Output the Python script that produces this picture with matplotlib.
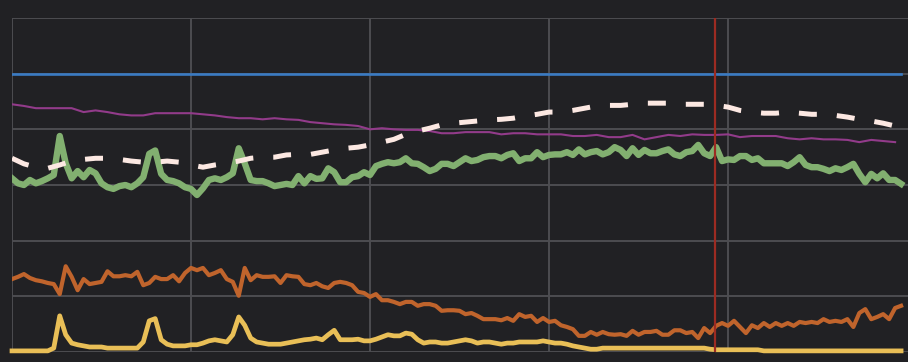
import numpy as np
import matplotlib
matplotlib.use("Agg")
import matplotlib.pyplot as plt

# ---------------- data ----------------
green_values = [
    31.2, 30.3, 30.0, 30.9, 30.3, 30.7, 31.2, 31.8, 38.8, 33.9,
    31.2, 32.5, 31.4, 32.7, 32.1, 30.3, 29.6, 29.3, 29.8, 30.0,
    29.6, 30.3, 31.4, 35.6, 36.2, 32.0, 30.9, 30.7, 30.3, 29.6,
    29.3, 28.2, 29.4, 30.9, 31.2, 30.9, 31.4, 32.1, 36.6, 33.9,
    30.9, 30.7, 30.7, 30.3, 29.8, 30.0, 30.2, 30.0, 31.6, 30.3,
    31.6, 31.1, 31.2, 33.0, 32.3, 30.5, 30.5, 31.4, 31.6, 32.3,
    31.8, 33.4, 33.8, 34.1, 33.9, 34.1, 34.8, 33.9, 33.8, 33.2,
    32.5, 32.9, 33.8, 33.8, 33.4, 34.1, 34.8, 34.3, 34.5, 35.0,
    35.2, 35.2, 34.8, 35.4, 35.7, 34.3, 34.8, 34.8, 35.9, 35.0,
    35.4, 35.5, 35.5, 35.9, 35.4, 36.4, 35.5, 35.9, 36.1, 35.5,
    35.9, 36.8, 36.3, 35.2, 36.6, 35.4, 36.3, 35.7, 35.7, 36.1,
    36.4, 35.5, 35.2, 35.9, 36.1, 37.2, 35.7, 35.2, 36.8, 34.3,
    34.6, 34.5, 35.2, 35.2, 34.5, 34.8, 33.9, 33.9, 33.9, 33.9,
    33.4, 34.1, 35.0, 33.6, 33.2, 33.2, 32.9, 32.5, 33.0, 32.7,
    33.2, 33.8, 32.0, 30.5, 32.0, 31.2, 32.1, 30.9, 30.9, 30.2,
]

orange_values = [
    13.1, 13.5, 14.0, 13.3, 12.9, 12.7, 12.4, 12.2, 10.4, 15.4,
    13.5, 11.1, 13.1, 12.2, 12.4, 12.6, 14.5, 13.6, 13.6, 13.8,
    13.6, 14.4, 12.0, 12.4, 13.5, 13.1, 13.1, 13.8, 12.7, 14.2,
    15.1, 14.7, 15.1, 13.8, 14.2, 14.7, 13.1, 12.6, 10.1, 15.1,
    12.9, 13.8, 13.5, 13.5, 13.6, 12.4, 13.8, 13.6, 13.5, 12.2,
    12.0, 12.4, 11.8, 11.5, 12.4, 12.6, 12.4, 12.0, 10.8, 10.6,
    9.9, 10.4, 9.3, 9.3, 9.0, 8.6, 9.0, 9.0, 8.3, 8.6,
    8.6, 8.3, 7.4, 7.5, 7.5, 7.4, 6.8, 7.0, 6.5, 5.9,
    5.9, 5.9, 5.7, 6.1, 5.6, 6.8, 6.3, 6.5, 5.4, 6.1,
    5.4, 5.6, 4.8, 4.5, 4.1, 2.9, 2.9, 3.6, 3.1, 3.6,
    3.2, 3.1, 3.2, 2.9, 3.8, 3.1, 3.6, 3.6, 3.8, 3.1,
    3.1, 3.9, 3.9, 3.4, 3.6, 2.5, 4.3, 3.4, 4.7, 5.2,
    4.7, 5.6, 4.5, 3.4, 4.8, 4.3, 5.2, 4.5, 5.2, 4.7,
    5.2, 4.7, 5.4, 5.2, 5.4, 5.2, 5.9, 5.4, 5.6, 5.4,
    5.9, 4.5, 7.0, 7.7, 5.9, 6.3, 6.8, 5.9, 7.9, 8.3,
]

yellow_values = [
    0.2, 0.2, 0.2, 0.2, 0.2, 0.2, 0.2, 0.7, 6.5, 3.1,
    1.6, 1.3, 1.1, 0.9, 0.9, 0.9, 0.7, 0.7, 0.7, 0.7,
    0.7, 0.7, 1.8, 5.6, 6.0, 2.2, 1.4, 1.1, 1.1, 1.1,
    1.3, 1.3, 1.6, 2.0, 2.2, 2.0, 1.8, 3.1, 6.3, 4.8,
    2.5, 1.8, 1.6, 1.4, 1.4, 1.4, 1.6, 1.8, 2.0, 2.2,
    2.3, 2.5, 2.2, 3.1, 3.9, 2.2, 2.2, 2.2, 2.3, 2.0,
    2.0, 2.3, 2.7, 3.1, 2.9, 2.9, 3.4, 3.2, 2.2, 1.6,
    1.8, 1.8, 1.6, 1.6, 1.8, 2.0, 2.2, 2.0, 1.6, 1.8,
    1.8, 1.6, 1.4, 1.6, 1.6, 1.8, 1.8, 1.8, 1.8, 2.0,
    1.8, 1.6, 1.6, 1.4, 1.1, 0.9, 0.7, 0.5, 0.5, 0.7,
    0.7, 0.7, 0.7, 0.7, 0.7, 0.7, 0.7, 0.7, 0.7, 0.7,
    0.7, 0.7, 0.7, 0.7, 0.7, 0.7, 0.7, 0.5, 0.4, 0.4,
    0.4, 0.4, 0.4, 0.4, 0.4, 0.4, 0.2, 0.2, 0.2, 0.2,
    0.2, 0.2, 0.2, 0.2, 0.2, 0.2, 0.2, 0.2, 0.2, 0.2,
    0.2, 0.2, 0.2, 0.2, 0.2, 0.2, 0.2, 0.2, 0.2, 0.2,
]

# sampled every 2 time steps
purple_values = [
    44.5, 44.2, 43.8, 43.8, 43.8, 43.8, 43.1, 43.4, 43.1, 42.7,
    42.5, 42.5, 42.9, 42.9, 42.9, 42.9, 42.7, 42.5, 42.2, 42.0,
    42.0, 41.8, 42.0, 41.8, 41.7, 41.3, 41.1, 40.9, 40.8, 40.6,
    40.0, 40.2, 40.0, 39.9, 39.9, 39.7, 39.3, 39.3, 39.5, 39.5,
    39.5, 39.1, 39.3, 39.3, 39.1, 39.1, 39.1, 38.8, 38.8, 39.0,
    38.6, 38.6, 39.0, 38.2, 38.6, 39.0, 38.8, 39.1, 39.0, 39.0,
    39.1, 38.6, 38.8, 38.8, 38.8, 38.4, 38.2, 38.4, 38.2, 38.2,
    38.1, 37.7, 38.1, 37.9, 37.7,
]

dashed_values = [
    34.8, 33.8, 33.2, 33.0, 33.6, 34.3, 34.6, 34.8, 34.8, 34.6,
    34.3, 34.1, 34.1, 34.3, 34.1, 33.6, 33.2, 33.6, 33.9, 34.3,
    34.8, 35.0, 35.0, 35.4, 35.5, 35.5, 35.9, 36.3, 36.6, 36.8,
    37.2, 37.7, 38.2, 39.1, 39.7, 40.2, 40.8, 41.1, 41.3, 41.5,
    41.7, 41.8, 42.0, 42.4, 42.7, 43.1, 43.1, 43.4, 43.8, 44.2,
    44.3, 44.3, 44.5, 44.7, 44.7, 44.7, 44.5, 44.5, 44.5, 44.3,
    44.0, 43.4, 43.1, 42.9, 42.9, 43.1, 42.9, 42.7, 42.7, 42.5,
    42.2, 41.8, 41.5, 41.1, 40.6,
]

blue_x = [0, 30, 60, 90, 120, 149]
blue_values = [50.0, 50.0, 50.0, 50.0, 50.0, 50.0]

marker_time = 117.8
y_ticks = [0, 10, 20, 30, 40, 50, 60]
x_ticks = [0, 30, 60, 90, 120]

# ---------------- style ----------------
BG = "#212124"
GRID = "#4d4d51"

fig = plt.figure(figsize=(9.08, 3.62), dpi=100, facecolor=BG)
ax = fig.add_axes([12 / 908, 10 / 362, 896 / 908, 334 / 362])
ax.set_facecolor(BG)

t = np.arange(len(green_values))
t2 = np.arange(len(purple_values)) * 2
t3 = np.arange(len(dashed_values)) * 2

ax.plot(blue_x, blue_values, color="#3a7bc3", lw=1.9, zorder=3)
ax.plot(t2, purple_values, color="#923b8a", lw=1.5, zorder=3)
ax.plot(t, orange_values, color="#c0642c", lw=3.0, zorder=4)
ax.plot(t, yellow_values, color="#e9bf57", lw=3.4, zorder=5, clip_on=False)
ax.plot(t, green_values, color="#82b070", lw=4.6, zorder=6)
ax.plot(t3, dashed_values, color="#fce8e2", lw=3.6, zorder=7,
        linestyle=(0, (3.6, 4.0)), dash_capstyle="butt")
ax.axvline(marker_time, color="#9c2b22", lw=1.6, zorder=8)

ax.set_xlim(0, 896 / 5.967)
ax.set_ylim(0, 60)
ax.set_xticks(x_ticks)
ax.set_yticks(y_ticks)
ax.grid(True, color=GRID, lw=1.4, zorder=0)
ax.set_axisbelow(True)
for s in ax.spines.values():
    s.set_visible(False)
ax.tick_params(axis="x", length=0, labelbottom=False)
ax.tick_params(axis="y", length=0, pad=9, labelsize=8, labelcolor="#9a9a9e")

fig.savefig("out.png", dpi=100, facecolor=BG)
